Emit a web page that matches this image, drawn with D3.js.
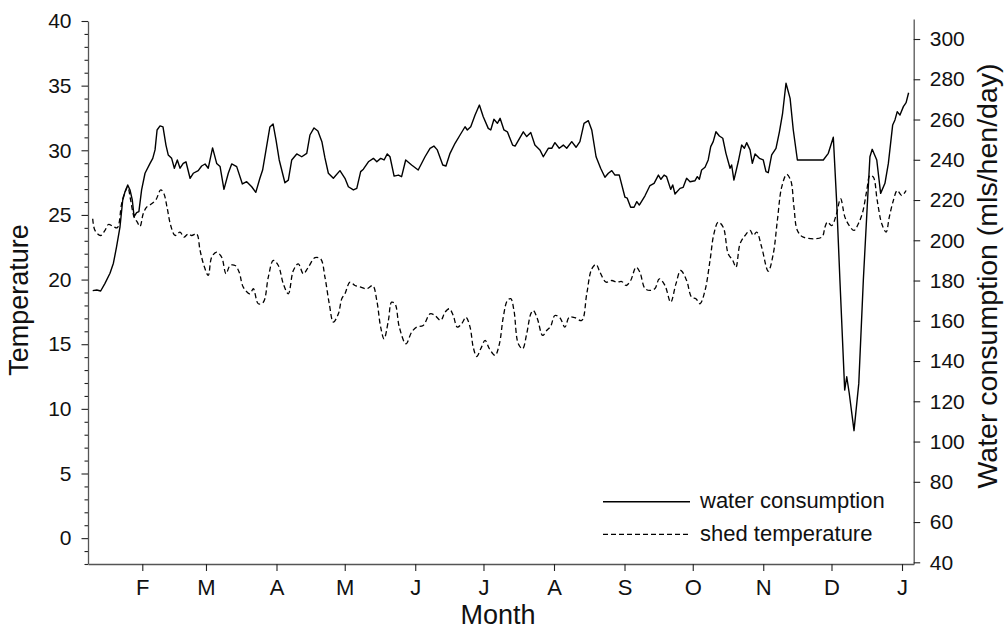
<!DOCTYPE html>
<html><head><meta charset="utf-8">
<script src="https://cdn.jsdelivr.net/npm/d3@7"></script>
<style>body{margin:0;background:#fff}svg{display:block}text{font-family:"Liberation Sans",Arial,sans-serif;fill:#111}</style>
</head><body><svg id="c" width="1005" height="629"></svg>
<script>
// ---- data (day = days since 1 Jan; year 2005) ----
const monthLabels = ["F","M","A","M","J","J","A","S","O","N","D","J"];
const tempTicks = [0,5,10,15,20,25,30,35,40];
const waterTicks = [40,60,80,100,120,140,160,180,200,220,240,260,280,300];
const seriesNames = ["water consumption","shed temperature"];

const waterSeries = [[9.2,175.0],[11.0,175.3],[12.7,174.8],[14.6,178.6],[16.8,183.6],[18.3,188.6],[19.7,196.8],[21.2,206.7],[22.4,220.0],[23.4,224.1],[24.6,227.5],[25.6,225.0],[26.6,220.0],[27.4,211.7],[28.5,213.7],[29.5,214.2],[30.7,225.0],[32.2,233.3],[34.4,238.2],[35.6,240.7],[36.6,244.9],[37.5,254.8],[38.8,256.8],[40.1,256.3],[41.4,247.3],[42.4,242.4],[43.9,240.7],[45.1,235.8],[46.4,239.9],[47.6,235.8],[49.0,238.2],[50.2,239.0],[52.0,230.8],[53.4,233.3],[55.6,234.6],[57.1,236.9],[58.6,237.9],[60.0,235.8],[61.9,245.9],[63.7,238.2],[65.2,236.6],[66.9,225.3],[68.8,233.3],[70.3,237.9],[72.5,236.6],[75.0,228.0],[76.9,229.1],[79.1,226.6],[80.9,223.8],[82.7,230.8],[83.9,234.9],[85.4,244.9],[87.1,256.3],[88.5,257.8],[89.8,249.8],[91.2,239.9],[93.7,228.6],[95.2,229.9],[96.7,239.9],[98.9,242.9],[101.1,241.5],[103.3,243.2],[104.7,252.3],[106.5,255.8],[108.2,254.3],[110.0,248.8],[111.3,240.9],[112.8,233.3],[115.0,230.8],[117.9,234.6],[120.1,230.8],[121.6,226.6],[123.8,225.0],[125.3,225.8],[127.0,234.1],[128.2,235.3],[130.4,239.0],[132.6,240.7],[134.1,239.0],[135.8,240.7],[137.3,239.9],[138.7,242.9],[139.9,241.5],[141.7,231.9],[143.6,232.4],[145.0,231.6],[146.8,239.9],[149.4,237.4],[152.3,234.9],[155.3,241.5],[157.5,245.7],[159.2,246.8],[160.7,244.9],[163.1,237.4],[164.5,236.9],[166.3,243.2],[168.5,248.2],[170.7,252.3],[172.9,256.4],[173.9,254.8],[175.4,256.4],[177.3,262.2],[179.2,267.2],[180.9,261.4],[183.1,255.6],[184.2,254.8],[185.6,260.1],[187.1,258.1],[188.3,260.6],[190.0,254.8],[191.5,253.9],[193.8,247.3],[194.9,246.8],[198.5,253.9],[200.0,251.5],[201.8,253.5],[203.6,247.3],[205.8,244.9],[207.3,241.5],[209.5,245.7],[211.0,245.7],[212.4,248.5],[214.3,245.7],[216.1,247.3],[217.6,245.7],[219.8,249.0],[221.7,246.2],[223.4,249.0],[225.2,258.1],[227.1,259.4],[228.6,254.8],[230.5,241.5],[232.5,235.8],[234.4,231.3],[235.9,233.3],[237.4,234.6],[238.8,232.4],[240.7,232.4],[243.2,221.4],[244.2,220.9],[245.7,216.4],[247.2,216.4],[248.4,219.2],[249.5,217.5],[252.0,222.1],[254.2,227.2],[256.0,228.3],[257.9,232.4],[259.0,230.3],[260.4,232.4],[261.5,231.6],[263.3,225.3],[264.2,227.5],[265.2,223.0],[267.4,225.8],[268.8,226.3],[270.3,230.8],[271.8,229.1],[274.0,229.6],[275.0,231.6],[275.9,230.3],[276.9,234.9],[278.4,236.3],[279.8,239.9],[280.9,246.5],[282.0,249.0],[283.2,253.9],[284.7,251.8],[286.2,250.7],[287.6,243.2],[289.4,235.8],[290.1,237.4],[291.1,229.9],[293.0,239.0],[294.5,247.3],[295.7,245.7],[296.7,248.5],[298.2,244.9],[299.2,238.2],[300.4,242.9],[302.3,240.7],[304.0,239.9],[305.2,234.1],[306.2,233.6],[307.7,242.4],[309.6,245.7],[311.1,253.9],[312.5,263.1],[314.0,278.0],[315.8,270.5],[317.2,254.8],[319.0,239.9],[330.4,239.9],[332.6,243.2],[334.8,251.2],[336.3,218.4],[337.7,180.3],[339.8,125.6],[340.7,132.2],[341.8,124.0],[343.9,105.4],[346.0,128.9],[348.0,180.3],[349.7,216.7],[350.9,241.5],[351.9,245.2],[353.9,239.9],[355.6,223.3],[357.5,228.3],[359.0,238.2],[360.9,257.3],[361.9,259.8],[362.9,263.9],[364.1,262.2],[365.6,266.4],[366.8,268.4],[367.9,273.3]];

const tempSeries = [[9.2,24.70],[10.2,23.80],[12.7,23.41],[14.6,23.80],[16.1,24.26],[18.2,24.11],[20.0,24.01],[21.9,25.86],[23.4,26.76],[24.6,27.15],[25.9,26.12],[27.4,24.83],[28.8,24.44],[30.0,24.11],[31.4,25.09],[32.9,25.60],[35.1,25.86],[37.0,26.17],[39.1,26.94],[40.5,26.64],[42.0,25.48],[43.5,24.18],[45.4,23.41],[47.6,23.67],[49.3,23.28],[51.2,23.54],[52.7,23.41],[54.9,23.54],[56.4,22.25],[58.1,21.09],[60.0,20.32],[61.5,21.73],[63.7,22.12],[65.9,21.73],[67.8,20.45],[69.6,21.09],[71.8,21.09],[73.6,20.57],[75.4,19.41],[78.3,18.90],[79.8,19.29],[82.0,18.13],[84.2,18.25],[86.4,20.19],[88.6,21.48],[90.8,21.09],[93.0,19.67],[95.2,18.90],[97.4,20.70],[99.6,21.22],[101.8,20.45],[104.0,20.96],[106.9,21.69],[109.4,21.61],[111.3,20.19],[113.2,18.13],[115.0,16.71],[117.2,17.35],[118.7,18.52],[120.1,18.90],[122.3,19.80],[124.5,19.54],[126.7,19.43],[129.7,19.29],[132.3,19.54],[134.1,18.38],[135.8,16.32],[137.3,15.42],[139.2,16.84],[140.6,18.25],[142.1,18.13],[144.0,16.32],[146.9,15.03],[149.4,15.93],[151.6,16.32],[154.5,16.45],[157.5,17.35],[159.7,17.22],[162.2,16.84],[164.1,17.48],[166.0,17.74],[167.7,17.22],[169.5,16.32],[171.4,16.58],[173.3,17.09],[175.1,16.32],[176.5,14.77],[178.0,14.05],[179.8,14.65],[181.7,15.29],[183.6,14.65],[186.1,14.13],[188.0,15.03],[189.7,17.09],[191.5,18.38],[193.0,18.52],[194.4,17.61],[196.3,15.03],[198.2,14.65],[200.0,15.81],[201.8,17.35],[202.9,17.61],[204.7,16.97],[207.0,15.68],[208.8,16.06],[210.5,16.37],[212.4,17.22],[214.6,17.05],[216.8,16.32],[218.7,17.09],[221.2,17.05],[224.2,16.84],[226.4,18.90],[228.6,20.83],[230.5,21.17],[232.2,20.57],[234.9,19.80],[237.4,19.93],[239.6,19.80],[241.8,19.85],[243.7,19.54],[245.7,19.93],[248.1,20.96],[249.8,20.55],[252.0,19.31],[254.2,19.16],[256.4,19.31],[258.3,20.06],[260.8,19.54],[263.3,18.25],[265.6,19.67],[267.7,20.70],[270.3,19.93],[272.5,18.64],[274.4,18.52],[276.2,18.13],[278.4,19.16],[280.6,21.48],[282.3,23.54],[284.2,24.44],[286.4,24.05],[288.6,21.99],[290.6,21.48],[292.0,20.96],[293.8,22.77],[296.0,23.41],[298.2,23.80],[299.6,23.41],[301.1,23.67],[303.3,22.51],[306.2,20.65],[308.4,21.99],[310.2,24.57],[312.1,27.15],[314.3,28.13],[316.1,27.66],[317.5,25.60],[319.0,23.80],[321.6,23.28],[329.7,23.28],[331.1,24.05],[332.2,24.44],[334.1,24.18],[336.0,24.96],[338.0,26.25],[339.9,24.83],[341.8,24.18],[343.9,23.80],[345.8,24.32],[347.7,25.21],[349.5,26.89],[350.9,28.05],[352.4,27.92],[354.1,26.12],[356.1,24.32],[358.0,23.67],[359.4,24.83],[361.2,26.12],[362.9,26.89],[364.9,26.50],[366.8,26.89]];

// ---- chart ----
const YEAR = 2005;
const toDate = d => new Date(Date.UTC(YEAR,0,1) + d*864e5);
const svg = d3.select("#c");
const L = 88, R = 913.7, B = 564;

const x = d3.scaleUtc().domain([toDate(7.13), toDate(370.14)]).range([L, R]);
const yT = d3.scaleLinear().domain([-2, 40]).range([B, 21]);
const yW = d3.scaleLinear().domain([39.16, 309.94]).range([B, 19]);

const axisCol = "#555";
function styleAxis(g, fs){
  g.attr("font-size", fs).attr("font-family", '"Liberation Sans",Arial,sans-serif');
  g.select(".domain").attr("stroke", axisCol).attr("stroke-width", 1.3);
  g.selectAll(".tick line").attr("stroke", "#222").attr("stroke-width", 1.1);
  g.selectAll(".tick text").attr("fill", "#111");
}

// left minor ticks
const minorT = d3.range(-2, 41).filter(v => v % 5 !== 0);
svg.append("g").attr("transform", `translate(${L},0)`)
  .call(d3.axisLeft(yT).tickValues(minorT).tickSize(3.5).tickFormat(""))
  .call(g => { g.select(".domain").remove(); g.selectAll(".tick line").attr("stroke","#222").attr("stroke-width",1.1); });
// left major axis
svg.append("g").attr("transform", `translate(${L},0)`)
  .call(d3.axisLeft(yT).tickValues(tempTicks).tickSize(6.5).tickSizeOuter(0).tickPadding(10))
  .call(g => styleAxis(g, 21));
// right axis
svg.append("g").attr("transform", `translate(${R},0)`)
  .call(d3.axisRight(yW).tickValues(waterTicks).tickSize(6.5).tickSizeOuter(0).tickPadding(9.5))
  .call(g => styleAxis(g, 21));
// bottom axis
const monthTicks = d3.utcMonth.range(toDate(31), toDate(366));
svg.append("g").attr("transform", `translate(0,${B})`)
  .call(d3.axisBottom(x).tickValues(monthTicks).tickSize(7).tickSizeOuter(0).tickPadding(8)
        .tickFormat((d,i) => monthLabels[i]))
  .call(g => styleAxis(g, 22));

// lines
const lineW = d3.line().x(d => x(toDate(d[0]))).y(d => yW(d[1]));
const lineT = d3.line().x(d => x(toDate(d[0]))).y(d => yT(d[1])).curve(d3.curveCatmullRom.alpha(0.5));
svg.append("path").datum(waterSeries).attr("d", lineW)
  .attr("fill","none").attr("stroke","#000").attr("stroke-width",1.4).attr("stroke-linejoin","round");
svg.append("path").datum(tempSeries).attr("d", lineT)
  .attr("fill","none").attr("stroke","#000").attr("stroke-width",1.3).attr("stroke-dasharray","5,3");

// axis titles
svg.append("text").attr("x", 498).attr("y", 624).attr("text-anchor","middle").attr("font-size",27).text("Month");
svg.append("text").attr("transform","translate(28,300) rotate(-90)").attr("text-anchor","middle").attr("font-size",27).text("Temperature");
svg.append("text").attr("transform","translate(997,276) rotate(-90)").attr("text-anchor","middle").attr("font-size",28.5).text("Water consumption (mls/hen/day)");

// legend
const leg = svg.append("g");
[[501.7, null], [534.3, "5,3"]].forEach((row, i) => {
  leg.append("line").attr("x1",603).attr("x2",690).attr("y1",row[0]).attr("y2",row[0])
    .attr("stroke","#000").attr("stroke-width", i ? 1.2 : 1.4).attr("stroke-dasharray", row[1]);
  leg.append("text").attr("x",700).attr("y",row[0]+6.5).attr("font-size",22).text(seriesNames[i]);
});
</script></body></html>
